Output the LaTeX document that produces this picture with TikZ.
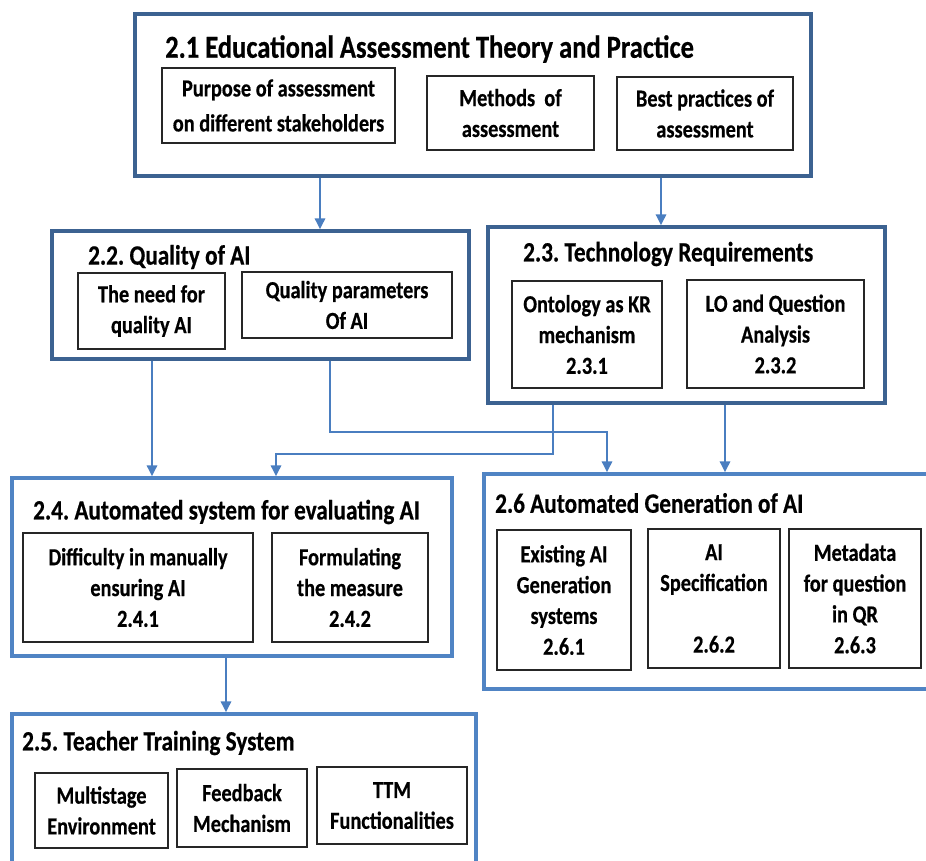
\documentclass[tikz,border=0pt]{standalone}
\usepackage{fontspec}
\setmainfont{Carlito}[FakeStretch=0.83, BoldFeatures={FakeBold=0.5}]
\usetikzlibrary{arrows.meta,fit}
\definecolor{darkframe}{HTML}{3C6291}
\definecolor{lightframe}{HTML}{5084C4}
\definecolor{linkblue}{HTML}{4A7EC0}
\definecolor{boxline}{HTML}{262626}
\frenchspacing
\begin{document}
\begin{tikzpicture}[x=1pt,y=-1pt,
  frame/.style={draw=#1, line width=3.2pt, inner sep=0pt},
  itembox/.style={draw=boxline, line width=1.2pt, inner sep=0pt},
  itemtext/.style={inner sep=0pt, align=center,
    font=\fontsize{24.5}{30.8}\selectfont\bfseries},
  heading/.style={anchor=west, inner sep=0pt, font=\fontsize{28}{30}\selectfont\bfseries},
  link/.style={draw=linkblue, line width=2.8pt, -{Triangle[length=11pt,width=10pt]}}
]
\useasboundingbox (0,0) rectangle (926,860);
\clip (0,0) rectangle (926,860);

% section frames
\node[frame=darkframe,  fit={(135,14) (811,176)}]  (b21) {};
\node[frame=darkframe,  fit={(52,231) (469,359)}]  (b22) {};
\node[frame=darkframe,  fit={(488,227) (885,403)}] (b23) {};
\node[frame=lightframe, fit={(12,478) (452,656)}]  (b24) {};
\node[frame=lightframe, fit={(12,714) (476,900)}]  (b25) {};
\node[frame=lightframe, fit={(484,474) (960,689)}] (b26) {};

% headings
\node[heading, font=\fontsize{32}{34}\selectfont\bfseries] (h21) at (165,49) {2.1 Educational Assessment Theory and Practice};
\node[heading] (h22) at (88,257) {2.2. Quality of AI};
\node[heading] (h23) at (523,254) {2.3. Technology Requirements};
\node[heading] (h24) at (33,512) {2.4. Automated system for evaluating AI};
\node[heading] (h25) at (22,743) {2.5. Teacher Training System};
\node[heading] (h26) at (495,503) {2.6 Automated Generation of AI};

% items of 2.1
\node[itembox, fit={(162,68) (395,143)}] (p1) {};
\node[itemtext, font=\fontsize{24.5}{35}\selectfont\bfseries] (p1x) at (p1.center) {Purpose of assessment\\on different stakeholders};
\node[itembox, fit={(427,76) (594,150)}] (p2) {};
\node[itemtext] (p2x) at (p2.center) {Methods~~of\\assessment};
\node[itembox, fit={(617,77) (793,150)}] (p3) {};
\node[itemtext] (p3x) at (p3.center) {Best practices of\\assessment};

% items of 2.2
\node[itembox, fit={(78,273) (225,349)}] (q1) {};
\node[itemtext] (q1x) at (q1.center) {The need for\\quality AI};
\node[itembox, fit={(242,272) (452,338)}] (q2) {};
\node[itemtext] (q2x) at (q2.center) {Quality parameters\\Of AI};

% items of 2.3
\node[itembox, fit={(512,281) (662,388)}] (t1) {};
\node[itemtext] (t1x) at (t1.center) {Ontology as KR\\mechanism\\2.3.1};
\node[itembox, fit={(687,280) (864,388)}] (t2) {};
\node[itemtext] (t2x) at (t2.center) {LO and Question\\Analysis\\2.3.2};

% items of 2.4
\node[itembox, fit={(23,533) (253,642)}] (e1) {};
\node[itemtext] (e1x) at (e1.center) {Difficulty in manually\\ensuring AI\\2.4.1};
\node[itembox, fit={(272,533) (428,642)}] (e2) {};
\node[itemtext] (e2x) at (e2.center) {Formulating\\the measure\\2.4.2};

% items of 2.5
\node[itembox, fit={(35,773) (168,848)}] (s1) {};
\node[itemtext] (s1x) at (s1.center) {Multistage\\Environment};
\node[itembox, fit={(177,769) (307,847)}] (s2) {};
\node[itemtext] (s2x) at (s2.center) {Feedback\\Mechanism};
\node[itembox, fit={(317,767) (467,844)}] (s3) {};
\node[itemtext] (s3x) at (s3.center) {TTM\\Functionalities};

% items of 2.6
\node[itembox, fit={(497,530) (631,670)}] (g1) {};
\node[itemtext] (g1x) at (g1.center) {Existing AI\\Generation\\systems\\2.6.1};
\node[itembox, fit={(648,529) (780,668)}] (g2) {};
\node[itemtext] (g2x) at (g2.center) {AI\\Specification\\\mbox{}\\2.6.2};
\node[itembox, fit={(789,529) (921,668)}] (g3) {};
\node[itemtext] (g3x) at (g3.center) {Metadata\\for question\\in QR\\2.6.3};

% connector columns and rows
\coordinate (xa) at (320,0);
\coordinate (xb) at (661,0);
\coordinate (xc) at (152,0);
\coordinate (xd) at (330,0);
\coordinate (xe) at (553,0);
\coordinate (xf) at (276,0);
\coordinate (xg) at (607,0);
\coordinate (xh) at (725,0);
\coordinate (xi) at (226,0);
\coordinate (ya) at (0,432);
\coordinate (yb) at (0,454);

% connectors
\draw[link] (b21.south -| xa) -- (b22.north -| xa);
\draw[link] (b21.south -| xb) -- (b23.north -| xb);
\draw[link] (b22.south -| xc) -- (b24.north -| xc);
\draw[link] (b22.south -| xd) -- (xd |- ya) -- (xg |- ya) -- (b26.north -| xg);
\draw[link] (b23.south -| xe) -- (xe |- yb) -- (xf |- yb) -- (b24.north -| xf);
\draw[link] (b23.south -| xh) -- (b26.north -| xh);
\draw[link] (b24.south -| xi) -- (b25.north -| xi);
\end{tikzpicture}
\end{document}
